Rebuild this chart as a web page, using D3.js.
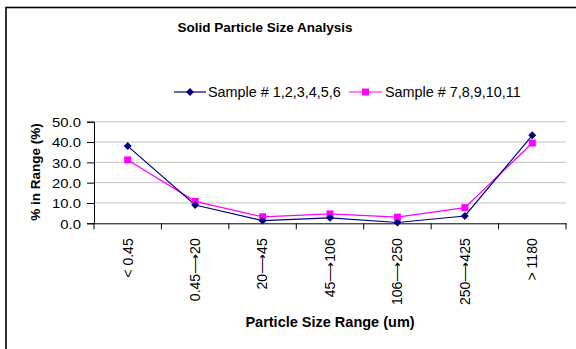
<!DOCTYPE html>
<html><head><meta charset="utf-8">
<script src="https://cdn.jsdelivr.net/npm/d3@7"></script>
<style>body{margin:0;background:#fff}svg{display:block;font-family:"Liberation Sans",Arial,sans-serif}</style>
</head><body><svg id="c" width="576" height="349"></svg>
<script>
const categories = ["< 0.45","0.45\u219220","20\u219245","45\u2192106","106\u2192250","250\u2192425","> 1180"];
const series1 = [38.0, 9.0, 1.3, 2.7, 0.4, 3.6, 43.3];
const series2 = [31.2, 10.8, 3.2, 4.6, 3.0, 7.7, 39.5];
const seriesNames = ["Sample # 1,2,3,4,5,6","Sample # 7,8,9,10,11"];
const yTicks = [0,10,20,30,40,50];

const svg = d3.select("#c");
// outer border
svg.append("rect").attr("x",6).attr("y",7.5).attr("width",600).attr("height",400)
  .attr("fill","none").attr("stroke","#000").attr("stroke-width",1.6);

const x = d3.scaleBand().domain(categories).range([94,566]);
const y = d3.scaleLinear().domain([0,50]).range([223.3,121.7]);

// gridlines
svg.append("g").selectAll("line").data(yTicks.filter(d=>d>0)).join("line")
  .attr("x1",94).attr("x2",566).attr("y1",d=>y(d)).attr("y2",d=>y(d))
  .attr("stroke","#c0c0c0").attr("stroke-width",1);

// y axis
const ya = svg.append("g").attr("transform","translate(94,0)")
  .call(d3.axisLeft(y).tickValues(yTicks).tickFormat(d3.format(".1f")).tickSize(7).tickPadding(6));
ya.select(".domain").attr("stroke","#000");
ya.selectAll(".tick line").attr("stroke","#000");
ya.selectAll("text").attr("font-size",13.5).attr("font-family","Liberation Sans, Arial").attr("fill","#000").attr("dy","0.35em")
  .each(function(){ const L=this.getComputedTextLength(); d3.select(this).attr("textLength",L*1.1).attr("lengthAdjust","spacingAndGlyphs"); });

// x axis
const xa = svg.append("g").attr("transform","translate(0,223.3)")
  .call(d3.axisBottom(x).tickSize(0).tickSizeOuter(0).tickFormat(d=>d.replace("\u2192","\u27F6")));
xa.select(".domain").attr("stroke","#000");
xa.selectAll(".tick line").remove();
// boundary ticks
const bounds = categories.map(c=>x(c)).concat([x.range()[1]]);
xa.append("g").selectAll("line").data(bounds).join("line")
  .attr("x1",d=>d).attr("x2",d=>d).attr("y1",0).attr("y2",6).attr("stroke","#000");
xa.selectAll(".tick text").attr("font-size",14).attr("font-family","Liberation Sans, Arial").attr("fill","#000")
  .attr("transform","rotate(-90)").attr("text-anchor","end").attr("x",-15).attr("y",0).attr("dy","0.35em");

// lines
const cx = d=>x(d)+x.bandwidth()/2;
const line = d3.line().x((d,i)=>cx(categories[i])).y(d=>y(d));
svg.append("path").datum(series2).attr("d",line).attr("fill","none").attr("stroke","#ff00ff").attr("stroke-width",1.2);
svg.append("path").datum(series1).attr("d",line).attr("fill","none").attr("stroke","#000080").attr("stroke-width",1.2);
// markers
svg.append("g").selectAll("rect").data(series2).join("rect")
  .attr("x",(d,i)=>cx(categories[i])-3.5).attr("y",d=>y(d)-3.5).attr("width",7).attr("height",7).attr("fill","#ff00ff");
const diamond = d3.symbol().type(d3.symbolDiamond2).size(40);
svg.append("g").selectAll("path").data(series1).join("path")
  .attr("transform",(d,i)=>`translate(${cx(categories[i])},${y(d)})`).attr("d",diamond).attr("fill","#000080");

// title
svg.append("text").attr("x",265).attr("y",32).attr("text-anchor","middle").attr("font-weight","bold")
  .attr("font-size",13.5).text("Solid Particle Size Analysis");

// axis titles
svg.append("text").attr("transform","translate(40,172) rotate(-90)").attr("text-anchor","middle")
  .attr("font-weight","bold").attr("font-size",13.5).text("% in Range (%)");
svg.append("text").attr("x",330).attr("y",327).attr("text-anchor","middle")
  .attr("font-weight","bold").attr("font-size",14.5).text("Particle Size Range (um)");

// legend
const lg = svg.append("g");
const ly = 92;
lg.append("line").attr("x1",174).attr("x2",206).attr("y1",ly).attr("y2",ly).attr("stroke","#000080").attr("stroke-width",1.2);
lg.append("path").attr("transform",`translate(190,${ly})`).attr("d",diamond).attr("fill","#000080");
lg.append("text").attr("x",208).attr("y",ly).attr("dy","0.35em").attr("font-size",14.4).text(seriesNames[0]);
lg.append("line").attr("x1",349).attr("x2",382).attr("y1",ly).attr("y2",ly).attr("stroke","#ff00ff").attr("stroke-width",1.2);
lg.append("rect").attr("x",362).attr("y",ly-3.5).attr("width",7).attr("height",7).attr("fill","#ff00ff");
lg.append("text").attr("x",385).attr("y",ly).attr("dy","0.35em").attr("font-size",14.4).text(seriesNames[1]);
</script></body></html>
